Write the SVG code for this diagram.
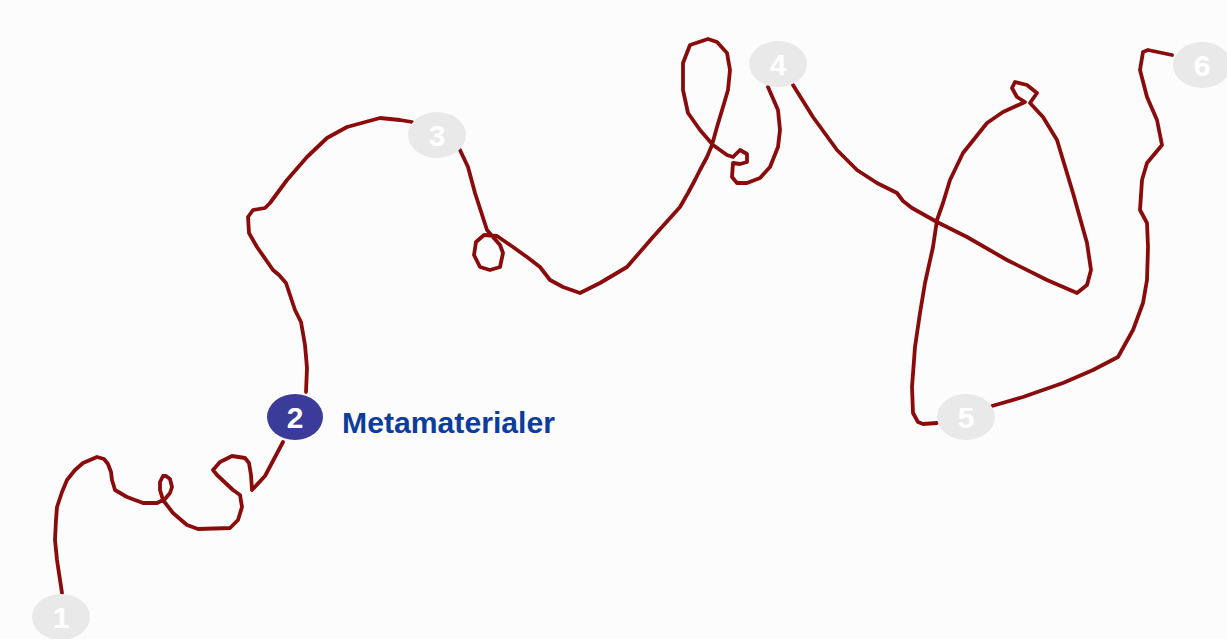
<svg xmlns="http://www.w3.org/2000/svg" width="1227" height="639" viewBox="0 0 1227 639">
<style>
.bg{fill:#fcfcfc}
.wire{fill:none;stroke:#8a0b0b;stroke-width:3.8;stroke-linejoin:round;stroke-linecap:round}
.nd{fill:#e9e9e9}
.nd.act{fill:#3b3b99}
.num{font-family:"Liberation Sans",Arial,sans-serif;font-weight:bold;font-size:30px;fill:#ffffff;text-anchor:middle}
.lbl{font-family:"Liberation Sans",Arial,sans-serif;font-weight:bold;font-size:29px;fill:#0d3d9c}
</style>
<rect class="bg" x="0" y="0" width="1227" height="639"/>
<g id="connectors">
<polyline class="wire" points="62,593 57,560 55,540 56,520 57,507 62,492 67,480 75,470 83,463 97,457 104,459 108,464 111,472 112,480 115,490 127,497 143,503 157,503 165,499 170,493 172,487 170,479 166,476 163,476 160,482 160,490 163,500 173,513 187,525 198,529 230,528 238,520 242,507 240,495 233,490 217,475 213,470 220,462 232,456 245,458 249,463 251,475 252,490 265,476 283,442"/>
<polyline class="wire" points="306,392 307,368 305,345 301,322 295,310 290,295 286,283 279,275 273,270 257,247 249,233 248,217 253,210 265,208 270,203 287,180 307,157 327,138 347,127 380,118 400,120 412,122"/>
<polyline class="wire" points="460,150 468,167 475,193 487,230 493,237 500,245 503,253 500,267 490,270 480,267 474,255 476,242 484,235 497,236 513,247 527,257 540,267 550,280 563,287 580,293 600,283 627,267 653,237 680,207 688,193 695,180 700,170 707,157 712,145 717,127 723,107 728,90 730,70 727,53 717,42 708,39 690,45 683,63 683,90 688,113 700,130 713,145 727,155 733,157 740,150 747,154 747,162 740,164 733,163 732,177 737,183 747,183 760,178 770,167 778,147 780,130 778,110 768,87"/>
<polyline class="wire" points="793,85 813,117 837,150 857,170 877,183 897,193 903,201 912,208 937,222 967,237 1007,260 1047,280 1077,293 1087,285 1091,270 1087,243 1073,193 1057,140 1043,117 1030,103 1037,93 1027,85 1015,82 1012,88 1017,97 1025,102 1003,112 987,123 963,153 950,180 943,203 937,220 933,247 925,283 920,313 915,347 912,387 913,413 918,422 923,424 937,423"/>
<polyline class="wire" points="992,406 1023,397 1063,383 1093,370 1118,357 1133,330 1143,303 1147,280 1148,247 1147,223 1140,210 1142,180 1147,163 1162,145 1157,120 1147,97 1140,70 1143,52 1148,50 1172,55"/>
</g>
<g id="node1"><ellipse class="nd" cx="61" cy="617" rx="29" ry="23"/><text class="num" x="61" y="628">1</text></g>
<g id="node2"><ellipse class="nd act" cx="295" cy="417" rx="28" ry="23"/><text class="num" x="295" y="428">2</text><text class="lbl" x="342" y="433" textLength="213" lengthAdjust="spacingAndGlyphs">Metamaterialer</text></g>
<g id="node3"><ellipse class="nd" cx="437" cy="135" rx="29" ry="23"/><text class="num" x="437" y="146">3</text></g>
<g id="node4"><ellipse class="nd" cx="778" cy="64" rx="29" ry="23"/><text class="num" x="778" y="75">4</text></g>
<g id="node5"><ellipse class="nd" cx="966" cy="417" rx="29" ry="23"/><text class="num" x="966" y="428">5</text></g>
<g id="node6"><ellipse class="nd" cx="1202" cy="65" rx="29" ry="23"/><text class="num" x="1202" y="76">6</text></g>
</svg>
